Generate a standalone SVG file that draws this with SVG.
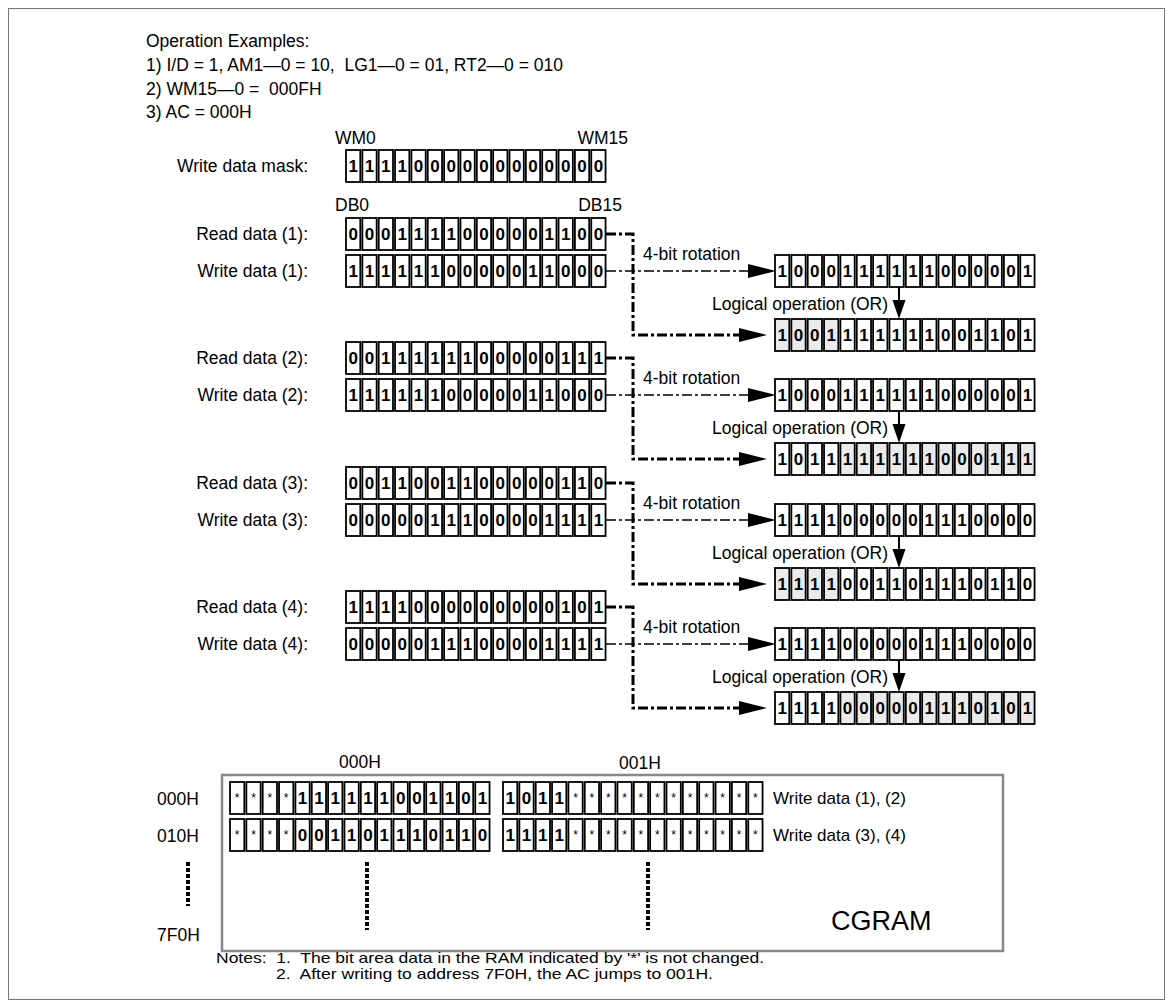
<svg xmlns="http://www.w3.org/2000/svg" xmlns:xlink="http://www.w3.org/1999/xlink" width="1173" height="1008" viewBox="0 0 1173 1008">
<style>
text{font-family:"Liberation Sans",Arial,sans-serif;fill:#000}
.lb{font-size:17.5px}
.le{font-size:17.5px;text-anchor:end}
.d{font-size:17px;font-weight:bold;text-anchor:middle}
.s{font-size:12px;text-anchor:middle}
.n{font-size:14.5px;white-space:pre}
.cell{fill:none;stroke:#000;stroke-width:1.8}
.gr{fill:#ebebeb}
.thick{fill:none;stroke:#000;stroke-width:3;stroke-dasharray:10 3 3 3}
.thin{fill:none;stroke:#000;stroke-width:1.5;stroke-dasharray:10 3 3 3}
.dot{fill:none;stroke:#000;stroke-width:4;stroke-dasharray:4 2}
</style>
<defs>
<g id="f16">
<rect class="cell" x="0" y="0" width="14.3" height="32"/><rect class="cell" x="16.35" y="0" width="14.3" height="32"/><rect class="cell" x="32.7" y="0" width="14.3" height="32"/><rect class="cell" x="49.05" y="0" width="14.3" height="32"/><rect class="cell" x="65.4" y="0" width="14.3" height="32"/><rect class="cell" x="81.75" y="0" width="14.3" height="32"/><rect class="cell" x="98.1" y="0" width="14.3" height="32"/><rect class="cell" x="114.45" y="0" width="14.3" height="32"/><rect class="cell" x="130.8" y="0" width="14.3" height="32"/><rect class="cell" x="147.15" y="0" width="14.3" height="32"/><rect class="cell" x="163.5" y="0" width="14.3" height="32"/><rect class="cell" x="179.85" y="0" width="14.3" height="32"/><rect class="cell" x="196.2" y="0" width="14.3" height="32"/><rect class="cell" x="212.55" y="0" width="14.3" height="32"/><rect class="cell" x="228.9" y="0" width="14.3" height="32"/><rect class="cell" x="245.25" y="0" width="14.3" height="32"/>
</g>
<g id="gA">
<rect class="gr" x="0" y="0" width="14.3" height="32"/><rect class="gr" x="16.35" y="0" width="14.3" height="32"/><rect class="gr" x="32.7" y="0" width="14.3" height="32"/><rect class="gr" x="49.05" y="0" width="14.3" height="32"/>
</g>
<g id="gB">
<rect class="gr" x="65.4" y="0" width="14.3" height="32"/><rect class="gr" x="81.75" y="0" width="14.3" height="32"/><rect class="gr" x="98.1" y="0" width="14.3" height="32"/><rect class="gr" x="114.45" y="0" width="14.3" height="32"/><rect class="gr" x="130.8" y="0" width="14.3" height="32"/><rect class="gr" x="147.15" y="0" width="14.3" height="32"/><rect class="gr" x="163.5" y="0" width="14.3" height="32"/><rect class="gr" x="179.85" y="0" width="14.3" height="32"/><rect class="gr" x="196.2" y="0" width="14.3" height="32"/><rect class="gr" x="212.55" y="0" width="14.3" height="32"/><rect class="gr" x="228.9" y="0" width="14.3" height="32"/><rect class="gr" x="245.25" y="0" width="14.3" height="32"/>
</g>
<marker id="ah" markerUnits="userSpaceOnUse" markerWidth="28" markerHeight="14" viewBox="0 0 28 14" refX="0" refY="7" orient="auto"><path d="M0,0 L28,7 L0,14 Z" fill="#000"/></marker>
</defs>
<rect x="8.5" y="8.5" width="1156" height="991" fill="#fff" stroke="#777" stroke-width="1"/>

<g id="header">
<text class="lb" x="146" y="47">Operation Examples:</text>
<text class="lb" x="146" y="71" style="white-space:pre">1) I/D = 1, AM1—0 = 10,  LG1—0 = 01, RT2—0 = 010</text>
<text class="lb" x="146" y="95" style="white-space:pre">2) WM15—0 =  000FH</text>
<text class="lb" x="146" y="118">3) AC = 000H</text>
</g>

<g id="mask">
<text class="lb" x="335" y="144">WM0</text>
<text class="le" x="628" y="144">WM15</text>
<text class="le" x="308" y="172">Write data mask:</text>
<g transform="translate(346,150)"><use xlink:href="#f16"/><text class="d" y="22" x="7.15 23.5 39.85 56.2 72.55 88.9 105.25 121.6 137.95 154.3 170.65 187 203.35 219.7 236.05 252.4">1111000000000000</text></g>
</g>
<g id="dblabels">
<text class="lb" x="335" y="211">DB0</text>
<text class="le" x="622" y="211">DB15</text>
</g>

<g id="connectors">
<path class="thick" d="M606,234 H633 V335 H739" marker-end="url(#ah)"/>
<path class="thin" d="M606,271 H748" marker-end="url(#ah)"/>
<path class="thick" d="M606,358 H633 V459 H739" marker-end="url(#ah)"/>
<path class="thin" d="M606,395 H748" marker-end="url(#ah)"/>
<path class="thick" d="M606,483 H633 V584 H739" marker-end="url(#ah)"/>
<path class="thin" d="M606,520 H748" marker-end="url(#ah)"/>
<path class="thick" d="M606,607 H633 V708 H739" marker-end="url(#ah)"/>
<path class="thin" d="M606,644 H748" marker-end="url(#ah)"/>
<g stroke="#000" stroke-width="2">
<line x1="899" y1="287" x2="899" y2="301"/><line x1="899" y1="411" x2="899" y2="425"/><line x1="899" y1="536" x2="899" y2="550"/><line x1="899" y1="660" x2="899" y2="674"/>
</g>
<polygon points="892.5,300 905.5,300 899,319"/>
<polygon points="892.5,424 905.5,424 899,443"/>
<polygon points="892.5,549 905.5,549 899,568"/>
<polygon points="892.5,673 905.5,673 899,692"/>
<text class="lb" x="643" y="260">4-bit rotation</text>
<text class="lb" x="712" y="310">Logical operation (OR)</text>
<text class="lb" x="643" y="384">4-bit rotation</text>
<text class="lb" x="712" y="434">Logical operation (OR)</text>
<text class="lb" x="643" y="509">4-bit rotation</text>
<text class="lb" x="712" y="559">Logical operation (OR)</text>
<text class="lb" x="643" y="633">4-bit rotation</text>
<text class="lb" x="712" y="683">Logical operation (OR)</text>
</g>

<g id="read1"><text class="le" x="308" y="240">Read data (1):</text><g transform="translate(346,218)"><use xlink:href="#f16"/><text class="d" y="22" x="7.15 23.5 39.85 56.2 72.55 88.9 105.25 121.6 137.95 154.3 170.65 187 203.35 219.7 236.05 252.4">0001111000001100</text></g></g>
<g id="write1"><text class="le" x="308" y="277">Write data (1):</text><g transform="translate(346,255)"><use xlink:href="#f16"/><text class="d" y="22" x="7.15 23.5 39.85 56.2 72.55 88.9 105.25 121.6 137.95 154.3 170.65 187 203.35 219.7 236.05 252.4">1111110000011000</text></g></g>
<g id="rot1" transform="translate(775,255)"><use xlink:href="#f16"/><text class="d" y="22" x="7.15 23.5 39.85 56.2 72.55 88.9 105.25 121.6 137.95 154.3 170.65 187 203.35 219.7 236.05 252.4">1000111111000001</text></g>
<g id="res1" transform="translate(775,319)"><use xlink:href="#gA"/><use xlink:href="#f16"/><text class="d" y="22" x="7.15 23.5 39.85 56.2 72.55 88.9 105.25 121.6 137.95 154.3 170.65 187 203.35 219.7 236.05 252.4">1001111111001101</text></g>

<g id="read2"><text class="le" x="308" y="364">Read data (2):</text><g transform="translate(346,342)"><use xlink:href="#f16"/><text class="d" y="22" x="7.15 23.5 39.85 56.2 72.55 88.9 105.25 121.6 137.95 154.3 170.65 187 203.35 219.7 236.05 252.4">0011111100000111</text></g></g>
<g id="write2"><text class="le" x="308" y="401">Write data (2):</text><g transform="translate(346,379)"><use xlink:href="#f16"/><text class="d" y="22" x="7.15 23.5 39.85 56.2 72.55 88.9 105.25 121.6 137.95 154.3 170.65 187 203.35 219.7 236.05 252.4">1111110000011000</text></g></g>
<g id="rot2" transform="translate(775,379)"><use xlink:href="#f16"/><text class="d" y="22" x="7.15 23.5 39.85 56.2 72.55 88.9 105.25 121.6 137.95 154.3 170.65 187 203.35 219.7 236.05 252.4">1000111111000001</text></g>
<g id="res2" transform="translate(775,443)"><use xlink:href="#gB"/><use xlink:href="#f16"/><text class="d" y="22" x="7.15 23.5 39.85 56.2 72.55 88.9 105.25 121.6 137.95 154.3 170.65 187 203.35 219.7 236.05 252.4">1011111111000111</text></g>

<g id="read3"><text class="le" x="308" y="489">Read data (3):</text><g transform="translate(346,467)"><use xlink:href="#f16"/><text class="d" y="22" x="7.15 23.5 39.85 56.2 72.55 88.9 105.25 121.6 137.95 154.3 170.65 187 203.35 219.7 236.05 252.4">0011001100000110</text></g></g>
<g id="write3"><text class="le" x="308" y="526">Write data (3):</text><g transform="translate(346,504)"><use xlink:href="#f16"/><text class="d" y="22" x="7.15 23.5 39.85 56.2 72.55 88.9 105.25 121.6 137.95 154.3 170.65 187 203.35 219.7 236.05 252.4">0000011100001111</text></g></g>
<g id="rot3" transform="translate(775,504)"><use xlink:href="#f16"/><text class="d" y="22" x="7.15 23.5 39.85 56.2 72.55 88.9 105.25 121.6 137.95 154.3 170.65 187 203.35 219.7 236.05 252.4">1111000001110000</text></g>
<g id="res3" transform="translate(775,568)"><use xlink:href="#gA"/><use xlink:href="#f16"/><text class="d" y="22" x="7.15 23.5 39.85 56.2 72.55 88.9 105.25 121.6 137.95 154.3 170.65 187 203.35 219.7 236.05 252.4">1111001101110110</text></g>

<g id="read4"><text class="le" x="308" y="613">Read data (4):</text><g transform="translate(346,591)"><use xlink:href="#f16"/><text class="d" y="22" x="7.15 23.5 39.85 56.2 72.55 88.9 105.25 121.6 137.95 154.3 170.65 187 203.35 219.7 236.05 252.4">1111000000000101</text></g></g>
<g id="write4"><text class="le" x="308" y="650">Write data (4):</text><g transform="translate(346,628)"><use xlink:href="#f16"/><text class="d" y="22" x="7.15 23.5 39.85 56.2 72.55 88.9 105.25 121.6 137.95 154.3 170.65 187 203.35 219.7 236.05 252.4">0000011100001111</text></g></g>
<g id="rot4" transform="translate(775,628)"><use xlink:href="#f16"/><text class="d" y="22" x="7.15 23.5 39.85 56.2 72.55 88.9 105.25 121.6 137.95 154.3 170.65 187 203.35 219.7 236.05 252.4">1111000001110000</text></g>
<g id="res4" transform="translate(775,692)"><use xlink:href="#gB"/><use xlink:href="#f16"/><text class="d" y="22" x="7.15 23.5 39.85 56.2 72.55 88.9 105.25 121.6 137.95 154.3 170.65 187 203.35 219.7 236.05 252.4">1111000001110101</text></g>

<g id="cgram">
<rect x="222" y="775" width="781" height="176" fill="none" stroke="#888" stroke-width="2.5"/>
<text class="lb" x="360" y="768" text-anchor="middle">000H</text>
<text class="lb" x="640" y="769" text-anchor="middle">001H</text>
<text class="lb" x="157" y="805">000H</text>
<text class="lb" x="157" y="842">010H</text>
<text class="lb" x="157" y="941">7F0H</text>
<line class="dot" x1="188" y1="862" x2="188" y2="906"/>
<line class="dot" x1="367" y1="862" x2="367" y2="930"/>
<line class="dot" x1="648" y1="862" x2="648" y2="930"/>
<g id="cg-r0a" transform="translate(230,782)"><use xlink:href="#f16"/><text class="s" y="20" x="7.15 23.5 39.85 56.2">****</text><text class="d" y="22" x="72.55 88.9 105.25 121.6 137.95 154.3 170.65 187 203.35 219.7 236.05 252.4">111111001101</text></g>
<g id="cg-r0b" transform="translate(503,782)"><use xlink:href="#f16"/><text class="d" y="22" x="7.15 23.5 39.85 56.2">1011</text><text class="s" y="20" x="72.55 88.9 105.25 121.6 137.95 154.3 170.65 187 203.35 219.7 236.05 252.4">************</text></g>
<g id="cg-r1a" transform="translate(230,819)"><use xlink:href="#f16"/><text class="s" y="20" x="7.15 23.5 39.85 56.2">****</text><text class="d" y="22" x="72.55 88.9 105.25 121.6 137.95 154.3 170.65 187 203.35 219.7 236.05 252.4">001101110110</text></g>
<g id="cg-r1b" transform="translate(503,819)"><use xlink:href="#f16"/><text class="d" y="22" x="7.15 23.5 39.85 56.2">1111</text><text class="s" y="20" x="72.55 88.9 105.25 121.6 137.95 154.3 170.65 187 203.35 219.7 236.05 252.4">************</text></g>
<text x="773" y="804" style="font-size:17px">Write data (1), (2)</text>
<text x="773" y="841" style="font-size:17px">Write data (3), (4)</text>
<text x="831" y="930" style="font-size:27px">CGRAM</text>
</g>

<g id="notes">
<text class="n" x="216" y="963" textLength="548" lengthAdjust="spacingAndGlyphs">Notes:  1.  The bit area data in the RAM indicated by '*' is not changed.</text>
<text class="n" x="276" y="979" textLength="437" lengthAdjust="spacingAndGlyphs">2.  After writing to address 7F0H, the AC jumps to 001H.</text>
</g>
</svg>
